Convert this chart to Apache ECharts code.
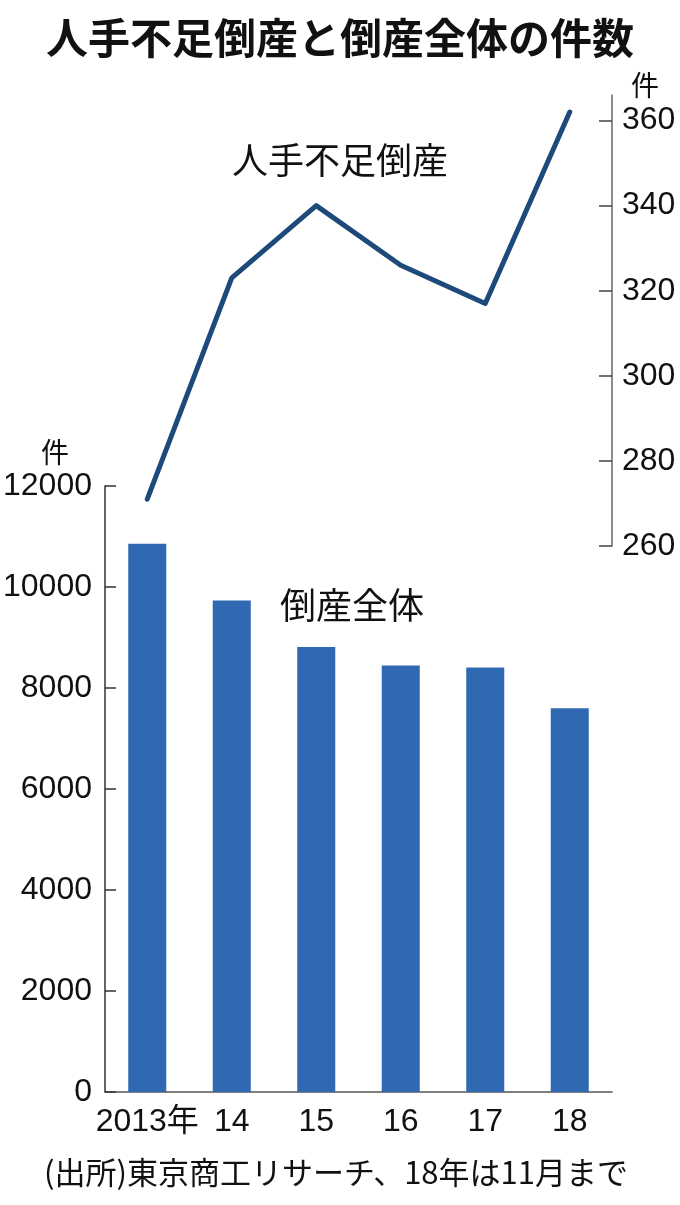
<!DOCTYPE html>
<html>
<head>
<meta charset="utf-8">
<script src="https://cdn.jsdelivr.net/npm/echarts@6/dist/echarts.min.js"></script>
<style>
html,body{margin:0;padding:0;background:#fff}
#chart1{width:680px;height:1205px}
</style>
</head>
<body>
<div id="chart1"></div>
<script>
var years = ['2013年', '14', '15', '16', '17', '18'];
var allBankruptcies = [10855, 9731, 8812, 8446, 8405, 7600];
var laborShortage = [271, 323, 340, 326, 317, 362];
var rightTicks = [260, 280, 300, 320, 340, 360];

var numFont = "'Liberation Sans', 'Noto Sans CJK JP', sans-serif";
var jpFont = "'Noto Sans CJK JP', sans-serif";

function txt(x, y, s, size, weight) {
	return {
		type: 'text',
		x: x,
		y: y,
		style: {
			text: s,
			fill: '#111',
			font: (weight || 'normal') + ' ' + size + 'px ' + jpFont,
			textAlign: 'center',
			textVerticalAlign: 'middle'
		}
	};
}

var option = {
	backgroundColor: '#fff',
	animation: false,
	grid: [
		{left: 105, right: 68, top: 486, bottom: 113, outerBoundsMode: 'none', containLabel: false},
		{left: 105, right: 68, top: 95, bottom: 659, outerBoundsMode: 'none', containLabel: false}
	],
	xAxis: [{
		gridIndex: 0,
		type: 'category',
		data: years,
		axisLine: {lineStyle: {color: '#555', width: 1.5}},
		axisTick: {show: false},
		axisLabel: {interval: 0, fontSize: 32, color: '#111', fontFamily: numFont, margin: 14}
	}, {
		gridIndex: 1,
		type: 'category',
		data: years,
		show: false
	}],
	yAxis: [{
		gridIndex: 0,
		type: 'value',
		min: 0,
		max: 12000,
		interval: 2000,
		axisLine: {show: true, lineStyle: {color: '#333', width: 1.5}},
		axisTick: {show: true, inside: true, length: 11, lineStyle: {color: '#333', width: 1.5}},
		axisLabel: {
			fontSize: 32, color: '#111', fontFamily: numFont, margin: 13,
			formatter: function (v) { return String(v); }
		},
		splitLine: {show: false}
	}, {
		gridIndex: 1,
		type: 'value',
		position: 'right',
		min: 260,
		max: 366,
		interval: 20,
		axisLine: {show: true, lineStyle: {color: '#666', width: 1.5}},
		axisTick: {show: true, inside: true, length: 13, customValues: rightTicks, lineStyle: {color: '#444', width: 1.5}},
		axisLabel: {
			fontSize: 32, color: '#111', fontFamily: numFont, margin: 10,
			customValues: rightTicks,
			formatter: function (v) { return v % 20 === 0 ? String(v) : ''; }
		},
		splitLine: {show: false}
	}],
	series: [{
		name: '倒産全体',
		type: 'bar',
		xAxisIndex: 0,
		yAxisIndex: 0,
		barWidth: '45%',
		itemStyle: {color: '#3068b1'},
		data: allBankruptcies
	}, {
		name: '人手不足倒産',
		type: 'line',
		xAxisIndex: 1,
		yAxisIndex: 1,
		symbol: 'none',
		lineStyle: {color: '#1d4a7a', width: 5, cap: 'round', join: 'round'},
		data: laborShortage
	}],
	graphic: [
		txt(340, 38, '人手不足倒産と倒産全体の件数', 42, 'bold'),
		txt(55, 452, '件', 28),
		txt(645, 85, '件', 28),
		txt(340, 160, '人手不足倒産', 36),
		txt(352, 605, '倒産全体', 36),
		txt(336, 1172, '(出所)東京商工リサーチ、18年は11月まで', 31)
	]
};
var chart1 = echarts.init(document.getElementById('chart1'));
chart1.setOption(option);
</script>
</body>
</html>
